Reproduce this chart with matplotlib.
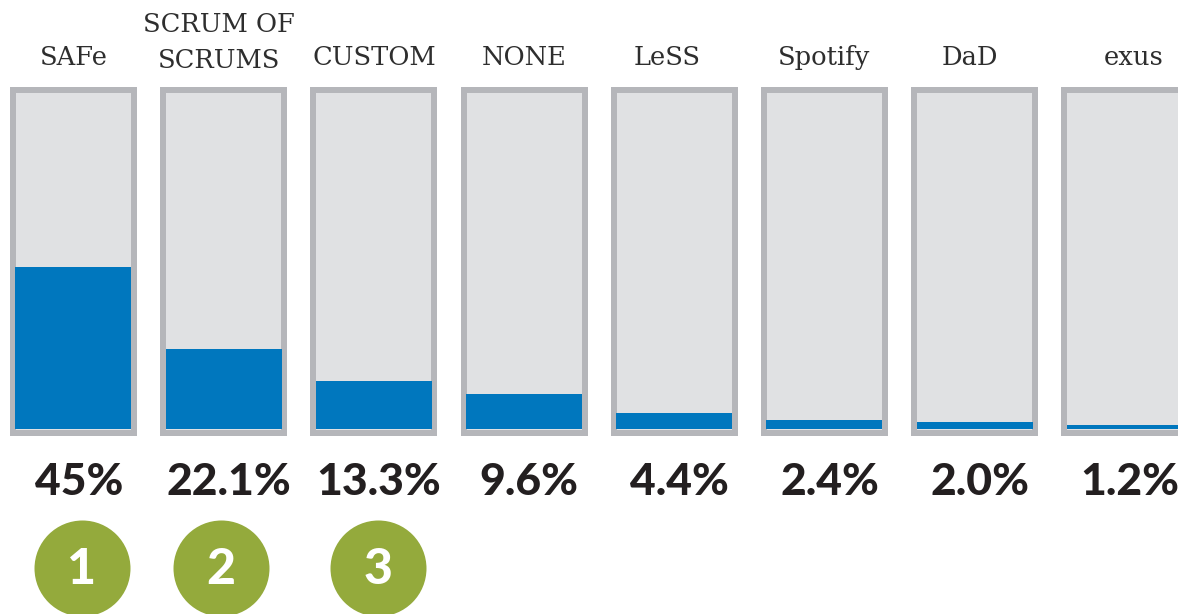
import matplotlib
matplotlib.use("Agg")
import matplotlib.pyplot as plt

# ---- data ----
categories = ["SAFe", "SCRUM OF\nSCRUMS", "CUSTOM", "NONE", "LeSS", "Spotify", "DaD", "exus"]
values = [45.0, 22.1, 13.3, 9.6, 4.4, 2.4, 2.0, 1.2]
value_labels = ["45%", "22.1%", "13.3%", "9.6%", "4.4%", "2.4%", "2.0%", "1.2%"]
ranks = [1, 2, 3]

# ---- styling / layout ----
W, H = 1178, 614
PX_X = 150.2      # pixels per category step
X0 = 73.5         # pixel centre of first box
PX_Y = 3.6        # pixels per percent
BASE = 429        # pixel row of 0 %

BORDER = "#b5b6ba"
FILL = "#e0e1e3"
BLUE = "#0077be"
GREEN = "#94aa3c"
DARK = "#231f20"

fig = plt.figure(figsize=(W / 100, H / 100), dpi=100)
ax = fig.add_axes([0, 0, 1, 1])
ax.set_xlim(-X0 / PX_X, (W - X0) / PX_X)
ax.set_ylim(-(H - BASE) / PX_Y, BASE / PX_Y)
ax.axis("off")

x = list(range(len(categories)))
outer_top, outer_bot = 95.0, -1.9
inner_top, inner_bot = 93.3, -0.3
ax.bar(x, outer_top - outer_bot, bottom=outer_bot, width=127 / PX_X, color=BORDER, linewidth=0)
ax.bar(x, inner_top - inner_bot, bottom=inner_bot, width=115 / PX_X, color=FILL, linewidth=0)
ax.bar(x, values, bottom=0, width=116 / PX_X, color=BLUE, linewidth=0)

# category labels
label_nudge = [0, -0.03, 0, 0, -0.05, 0, -0.03, 0.06]
for i, c in enumerate(categories):
    if "\n" in c:
        ax.text(i + label_nudge[i], (BASE - 68) / PX_Y, c, ha="center", va="baseline",
                fontsize=18.5, family="DejaVu Serif", color="#2e2e2e",
                linespacing=1.55)
    else:
        ax.text(i + label_nudge[i], (BASE - 65) / PX_Y, c, ha="center", va="baseline",
                fontsize=18.5, family="DejaVu Serif", color="#2e2e2e")

# value labels
for i, lab in enumerate(value_labels):
    ax.text(i + 0.035, (BASE - 495) / PX_Y, lab, ha="center", va="baseline",
            fontsize=32, family="Lato", fontweight="black", color=DARK)

# rank circles
rank_nudge = [0.057, -0.017, 0.027]
rx = [r - 1 + n for r, n in zip(ranks, rank_nudge)]
ry = [(BASE - 568) / PX_Y] * len(ranks)
ax.scatter(rx, ry, s=(96 * 0.72) ** 2, color=GREEN, linewidths=0, zorder=3)
for xi, yi, r in zip(rx, ry, ranks):
    ax.text(xi, yi - 0.5, str(r), ha="center", va="center", fontsize=36,
            family="Lato", fontweight="black", color="white", zorder=4)

fig.savefig("out.png", dpi=100, facecolor="white")
